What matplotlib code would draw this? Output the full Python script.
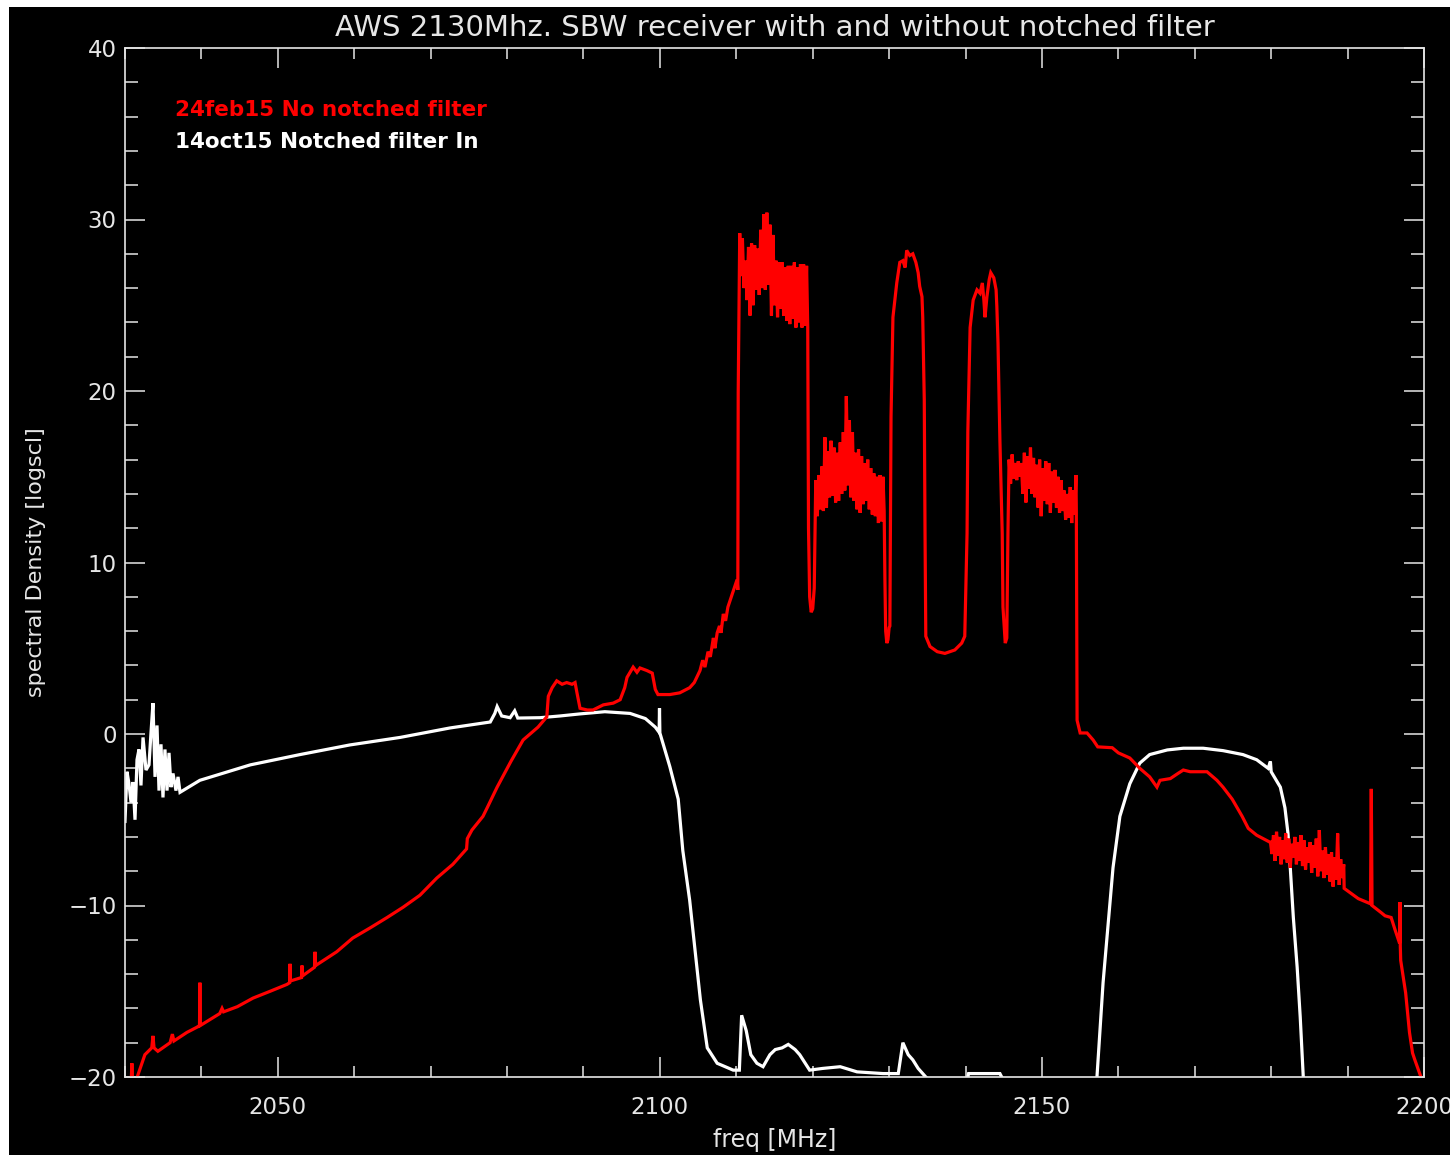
import matplotlib
matplotlib.use('Agg')
import matplotlib.pyplot as plt
from matplotlib.patches import Rectangle
from matplotlib.ticker import MultipleLocator

# ---------------------------------------------------------------------------
# Spectral density traces (freq in MHz, level in log scale units)
# ---------------------------------------------------------------------------

# 14oct15, notched filter in
white_freq = [
    2030.0, 2030.26, 2030.52, 2030.79, 2031.05, 2031.31, 2031.57, 2031.83,
    2032.09, 2032.36, 2032.75, 2033.14, 2033.40, 2033.66, 2033.93, 2034.19,
    2034.45, 2034.71, 2034.97, 2035.23, 2035.50, 2035.76, 2036.02, 2036.28,
    2036.67, 2036.94, 2037.2, 2039.8, 2046.4, 2052.9, 2059.4, 2066.0,
    2072.5, 2077.8, 2078.4, 2078.7, 2079.3, 2080.4, 2081.0, 2081.4,
    2084.3, 2086.9, 2089.5, 2092.8, 2096.1, 2098.1, 2099.4, 2099.9,
    2099.95, 2100.0, 2101.3, 2102.4, 2103.0, 2103.9, 2104.6, 2105.3,
    2106.2, 2107.5, 2109.6, 2110.4, 2110.7, 2111.3, 2111.9, 2112.7,
    2113.5, 2114.4, 2115.1, 2116.0, 2116.8, 2117.7, 2118.3, 2119.6,
    2121.3, 2123.6, 2125.8, 2129.2, 2131.2, 2131.8, 2132.5, 2133.1,
    2133.8, 2134.4, 2135.4, 2136.0, 2140.0, 2140.4, 2144.5, 2145.2,
    2146.0, 2156.9, 2157.2, 2158.0, 2159.3, 2160.2, 2161.5, 2162.8,
    2164.1, 2166.4, 2168.5, 2171.1, 2173.7, 2176.3, 2178.1, 2179.6,
    2179.9, 2180.0, 2181.2, 2181.8, 2182.2, 2182.5, 2182.9, 2183.4,
    2183.8, 2184.2, 2184.6, 2200.0,
]
white_val = [
    -5.1, -2.2, -2.9, -4.0, -2.8, -5.0, -1.5, -0.9,
    -3.0, -0.2, -2.1, -1.8, 0.06, 1.8, -2.5, 0.5,
    -3.3, -0.6, -3.7, -0.9, -3.3, -1.1, -3.1, -2.3,
    -3.3, -2.5, -3.4, -2.7, -1.8, -1.2, -0.64, -0.2,
    0.35, 0.7, 1.2, 1.6, 1.05, 0.95, 1.35, 0.93,
    0.95, 1.05, 1.17, 1.3, 1.2, 0.9, 0.4, 0.1,
    1.5, 0.06, -1.9, -3.8, -6.8, -9.7, -12.6, -15.5,
    -18.3, -19.2, -19.6, -19.6, -16.4, -17.3, -18.7, -19.2,
    -19.4, -18.7, -18.4, -18.3, -18.1, -18.4, -18.7, -19.6,
    -19.5, -19.4, -19.7, -19.8, -19.8, -18.0, -18.7, -19.0,
    -19.5, -19.8, -20.3, -21.0, -20.6, -19.8, -19.8, -20.4,
    -21.0, -21.0, -20.0, -14.5, -7.8, -4.8, -2.9, -1.7,
    -1.2, -0.93, -0.83, -0.83, -0.97, -1.2, -1.5, -2.0,
    -1.6, -2.2, -3.1, -4.3, -5.8, -7.8, -10.7, -13.6,
    -16.5, -20.0, -21.0, -21.0,
]

# 24feb15, no notched filter
red_freq = [
    # low-frequency slope
    2030.5, 2030.8, 2030.9, 2031.0, 2031.6, 2032.6, 2033.5, 2033.66,
    2033.8, 2034.3, 2035.9, 2036.2, 2036.4, 2038.1, 2039.4, 2039.75,
    2039.8, 2039.85, 2042.4, 2042.7, 2042.9, 2044.7, 2046.75, 2049.0,
    2051.2, 2051.55, 2051.6, 2051.65, 2053.1, 2053.16, 2053.25, 2054.8,
    2054.87, 2054.95, 2057.7, 2059.8, 2062.1, 2064.3, 2066.4, 2068.6,
    2070.8, 2072.9, 2074.7, 2074.8, 2075.4, 2076.85, 2077.4, 2078.7,
    2080.5, 2082.1, 2084.05, 2085.2, 2085.4, 2085.9, 2086.5, 2087.2,
    2087.8, 2088.5, 2088.9, 2089.15, 2089.55, 2090.5, 2091.25, 2092.6,
    2093.9, 2094.8, 2095.4, 2095.7, 2096.5, 2097.0, 2097.4, 2098.3,
    2099.0, 2099.4, 2099.75, 2101.3, 2102.6, 2103.9, 2104.5, 2105.25,
    2105.6, 2105.9, 2106.3, 2106.6, 2107.0, 2107.2, 2107.5, 2107.8,
    2108.0, 2108.3, 2108.6, 2108.9, 2109.2, 2109.5, 2109.8, 2110.1,
    2110.2, 2110.25,
    # first carrier block
    2110.45, 2110.6, 2110.8, 2111.0, 2111.2, 2111.4, 2111.6, 2111.8,
    2112.0, 2112.2, 2112.4, 2112.6, 2112.8, 2113.0, 2113.2, 2113.4,
    2113.6, 2113.8, 2114.0, 2114.2, 2114.4, 2114.6, 2114.8, 2115.0,
    2115.2, 2115.4, 2115.6, 2115.8, 2116.0, 2116.2, 2116.4, 2116.6,
    2116.8, 2117.0, 2117.2, 2117.4, 2117.6, 2117.8, 2118.0, 2118.2,
    2118.4, 2118.6, 2118.8, 2119.0, 2119.2, 2119.35,
    2119.45, 2119.6, 2119.8, 2120.0, 2120.2, 2120.35,
    # second block
    2120.4, 2120.6, 2120.8, 2121.0, 2121.2, 2121.4, 2121.6, 2121.8,
    2122.0, 2122.2, 2122.4, 2122.6, 2122.8, 2123.0, 2123.2, 2123.4,
    2123.6, 2123.8, 2124.0, 2124.2, 2124.4, 2124.6, 2124.8, 2125.0,
    2125.2, 2125.4, 2125.6, 2125.8, 2126.0, 2126.2, 2126.4, 2126.6,
    2126.8, 2127.0, 2127.2, 2127.4, 2127.6, 2127.8, 2128.0, 2128.2,
    2128.4, 2128.6, 2128.8, 2129.0, 2129.2, 2129.35,
    2129.45, 2129.55, 2129.7, 2129.85, 2130.0,
    # rounded carriers
    2130.1, 2130.25, 2130.5, 2131.0, 2131.4, 2131.8, 2132.1, 2132.3,
    2132.7, 2133.1, 2133.5, 2133.8, 2134.0, 2134.3, 2134.4, 2134.6,
    2134.7, 2134.8, 2135.35, 2136.3, 2137.3, 2138.6, 2139.5, 2139.9,
    2140.2, 2140.3, 2140.6, 2141.0, 2141.5, 2141.9, 2142.2, 2142.4,
    2142.55, 2142.8, 2143.1, 2143.3, 2143.7, 2144.0, 2144.1, 2144.25,
    2144.5, 2144.8, 2144.9, 2145.2, 2145.4, 2145.55,
    # fifth block
    2145.7, 2145.9, 2146.1, 2146.3, 2146.5, 2146.7, 2146.9, 2147.1,
    2147.3, 2147.5, 2147.7, 2147.9, 2148.1, 2148.3, 2148.5, 2148.7,
    2148.9, 2149.1, 2149.3, 2149.5, 2149.7, 2149.9, 2150.1, 2150.3,
    2150.5, 2150.7, 2150.9, 2151.1, 2151.3, 2151.5, 2151.7, 2151.9,
    2152.1, 2152.3, 2152.5, 2152.7, 2152.9, 2153.1, 2153.3, 2153.5,
    2153.7, 2153.9, 2154.1, 2154.3, 2154.45, 2154.5,
    # upper skirt
    2154.6, 2155.0, 2155.9, 2156.7, 2157.3, 2159.2, 2160.0, 2161.5,
    2162.8, 2164.1, 2165.05, 2165.45, 2166.8, 2167.8, 2168.5, 2169.4,
    2171.6, 2172.9, 2173.7, 2174.9, 2176.2, 2177.0, 2178.1, 2179.8,
    2179.9, 2180.1, 2180.3, 2180.5, 2180.7, 2180.9, 2181.1, 2181.3,
    2181.5, 2181.7, 2181.9, 2182.1, 2182.3, 2182.5, 2182.7, 2182.9,
    2183.1, 2183.3, 2183.5, 2183.7, 2183.9, 2184.1, 2184.3, 2184.5,
    2184.7, 2184.9, 2185.1, 2185.3, 2185.5, 2185.7, 2185.9, 2186.1,
    2186.3, 2186.5, 2186.7, 2186.9, 2187.1, 2187.3, 2187.5, 2187.7,
    2187.9, 2188.1, 2188.3, 2188.5, 2188.7, 2188.9, 2189.1, 2189.3,
    2189.5, 2189.55, 2191.4, 2193.0, 2193.1, 2193.2, 2194.35, 2194.9,
    2195.7, 2196.2, 2196.8, 2196.85, 2196.9, 2196.95, 2197.6, 2198.1,
    2198.5, 2198.8, 2199.6, 2200.0,
]
red_val = [
    -21.0, -20.5, -19.2, -20.5, -20.0, -18.7, -18.3, -17.6,
    -18.3, -18.5, -18.0, -17.5, -17.9, -17.4, -17.1, -17.0,
    -14.5, -17.0, -16.3, -16.0, -16.2, -15.9, -15.4, -15.0,
    -14.6, -14.5, -13.4, -14.4, -14.2, -13.5, -14.1, -13.6,
    -12.7, -13.5, -12.7, -11.9, -11.3, -10.7, -10.1, -9.4,
    -8.4, -7.6, -6.7, -6.1, -5.6, -4.8, -4.3, -3.1,
    -1.6, -0.35, 0.4, 1.0, 2.2, 2.7, 3.1, 2.9,
    3.0, 2.9, 3.0, 2.4, 1.5, 1.4, 1.4, 1.7,
    1.8, 2.0, 2.7, 3.3, 3.9, 3.6, 3.85, 3.7,
    3.55, 2.6, 2.3, 2.3, 2.4, 2.7, 3.0, 3.7,
    4.3, 3.9, 4.8, 4.5, 5.6, 5.0, 5.9, 6.3,
    5.9, 7.0, 6.6, 7.4, 7.8, 8.2, 8.6, 9.0,
    8.4, 19.9,
    29.2, 26.7, 28.9, 26.0, 27.6, 25.3, 28.4, 24.4,
    28.6, 25.0, 28.5, 25.9, 28.3, 25.6, 29.4, 26.0,
    30.3, 25.9, 30.4, 26.2, 29.7, 24.4, 29.1, 25.0,
    27.6, 24.3, 27.5, 24.8, 27.5, 24.4, 27.2, 24.1,
    27.3, 23.9, 27.3, 24.2, 27.5, 23.7, 27.2, 24.0,
    27.4, 23.7, 27.4, 23.8, 27.3, 23.7,
    12.0, 8.0, 7.1, 7.3, 8.5, 13.0,
    14.8, 12.7, 15.1, 13.1, 15.6, 13.0, 17.3, 13.2,
    16.5, 13.8, 17.1, 13.9, 16.7, 13.5, 16.4, 13.6,
    17.0, 14.0, 17.6, 14.2, 19.7, 14.5, 18.3, 13.8,
    17.6, 13.6, 16.4, 13.1, 16.6, 12.9, 16.2, 13.4,
    15.8, 13.6, 16.0, 13.1, 15.5, 12.8, 15.2, 12.7,
    15.0, 12.3, 15.1, 12.4, 15.0, 13.0,
    9.0, 6.0, 5.3, 5.5, 6.2,
    6.3, 18.5, 24.3, 26.3, 27.5, 27.6, 27.2, 28.2,
    27.9, 28.0, 27.5, 26.9, 26.1, 25.5, 24.3, 19.5,
    11.7, 5.7, 5.1, 4.8, 4.7, 4.9, 5.3, 5.7,
    11.7, 17.6, 23.7, 25.3, 25.9, 25.7, 26.3, 25.3,
    24.3, 25.5, 26.5, 26.9, 26.6, 25.9, 24.9, 22.8,
    17.1, 11.7, 7.4, 5.3, 5.6, 11.7,
    16.0, 14.6, 16.3, 14.9, 15.8, 14.8, 15.9, 15.0,
    15.8, 14.0, 16.4, 13.5, 16.2, 14.3, 16.7, 14.0,
    16.1, 13.8, 15.7, 13.2, 16.0, 12.7, 15.5, 13.6,
    15.9, 13.4, 15.8, 12.9, 15.3, 13.5, 15.4, 13.2,
    15.0, 12.9, 14.8, 13.0, 14.2, 12.5, 14.0, 12.6,
    14.4, 12.3, 14.2, 12.8, 15.1, 13.0,
    0.8, 0.06, 0.06, -0.35, -0.75, -0.8, -1.1, -1.4,
    -2.0, -2.5, -3.1, -2.7, -2.6, -2.3, -2.1, -2.2,
    -2.2, -2.7, -3.1, -3.8, -4.8, -5.5, -5.9, -6.3,
    -6.3, -7.0, -5.9, -7.4, -5.7, -7.1, -6.0, -7.6,
    -6.2, -7.3, -5.8, -7.5, -6.1, -7.8, -6.4, -7.2,
    -6.0, -7.6, -6.3, -7.4, -5.9, -7.7, -6.2, -7.9,
    -6.6, -7.5, -6.3, -8.1, -6.5, -7.8, -6.1, -8.3,
    -5.6, -8.0, -6.8, -8.4, -6.6, -8.2, -7.0, -8.6,
    -6.9, -8.9, -7.2, -8.5, -5.8, -8.8, -7.3, -8.4,
    -7.6, -9.0, -9.6, -9.9, -3.2, -10.0, -10.4, -10.6,
    -10.7, -11.4, -12.2, -9.8, -12.4, -13.2, -15.1, -17.4,
    -18.6, -19.0, -20.0, -21.0,
]

legend_labels = ['24feb15 No notched filter', '14oct15 Notched filter In']
legend_colors = ['#ff0000', '#ffffff']

# ---------------------------------------------------------------------------
# Plot
# ---------------------------------------------------------------------------
fg = '#e6e6e6'
fig = plt.figure(figsize=(14.5, 11.55), dpi=100, facecolor='white')
# dark plotting surface leaves a thin white margin at top and left
fig.patches.append(Rectangle((9 / 1450, 0), 1 - 9 / 1450, 1 - 7 / 1155,
                             transform=fig.transFigure, facecolor='black',
                             edgecolor='none', zorder=-10))

ax = fig.add_axes([125 / 1450, 1 - 1077 / 1155, 1299 / 1450, 1029 / 1155])
ax.set_facecolor('black')

ax.plot(white_freq, white_val, color='#ffffff', lw=2.3, solid_joinstyle='miter')
ax.plot(red_freq, red_val, color='#ff0000', lw=2.3, solid_joinstyle='miter')

ax.set_xlim(2030, 2200)
ax.set_ylim(-20, 40)

ax.xaxis.set_major_locator(MultipleLocator(50))
ax.xaxis.set_minor_locator(MultipleLocator(10))
ax.yaxis.set_major_locator(MultipleLocator(10))
ax.yaxis.set_minor_locator(MultipleLocator(2))

for spine in ax.spines.values():
    spine.set_color(fg)
    spine.set_linewidth(1.2)

ax.tick_params(axis='both', which='both', direction='in', colors=fg,
               top=True, right=True, width=1.1, labelsize=16.5)
ax.tick_params(axis='x', which='major', length=14.5, pad=14)
ax.tick_params(axis='x', which='minor', length=8)
ax.tick_params(axis='y', which='major', length=14.5, pad=6)
ax.tick_params(axis='y', which='minor', length=9.5)
ax.set_xticklabels([], minor=True)

ax.set_title('AWS 2130Mhz. SBW receiver with and without notched filter',
             color=fg, fontsize=21, pad=9)
ax.set_xlabel('freq [MHz]', color=fg, fontsize=17, labelpad=6)
ax.set_ylabel('spectral Density [logscl]', color=fg, fontsize=16, labelpad=16)

for i, (label, col) in enumerate(zip(legend_labels, legend_colors)):
    ax.text(0.0385, 0.94 - i * 0.031, label, color=col, fontsize=15.5,
            fontweight='bold', transform=ax.transAxes, va='center', ha='left')

plt.savefig('out.png', dpi=100, facecolor=fig.get_facecolor())
plt.close()
